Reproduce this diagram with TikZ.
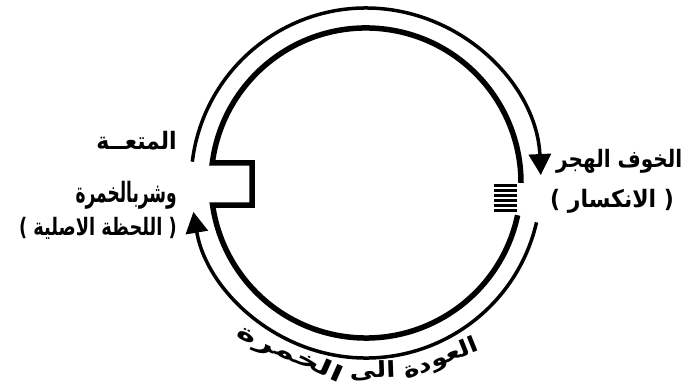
\documentclass[tikz,border=0pt]{standalone}
\usepackage{fontspec}
\usetikzlibrary{arrows.meta, calc}
\TeXXeTstate=1
\newfontfamily\arabicfont[Script=Arabic]{DejaVu Sans}
\newcommand{\artxt}[3][1.2]{\scalebox{#2}[#1]{#3}}

\begin{document}
\begin{tikzpicture}[x=1pt, y=1pt,
    lbl/.style={font=\arabicfont\bfseries\fontsize{20}{22}\selectfont, inner sep=0pt},
    arclbl/.style={font=\arabicfont\bfseries\fontsize{22}{24}\selectfont, inner sep=0pt},
    outerring/.style={line width=3.5pt, -{Triangle[length=21pt, width=22pt]}},
    innerring/.style={line width=5.5pt, line join=miter}]
  \useasboundingbox (0,0) rectangle (686,391);
  \coordinate (c) at (366,208);
  \draw[outerring] (c) ++(173:175) arc[start angle=173, end angle=2.6, radius=175];
  \draw[outerring] (c) ++(-13:175) arc[start angle=-13, end angle=-170.5, radius=175];
  \draw[innerring] (c) ++(-12:155) arc[start angle=-12, end angle=-171.8, radius=155]
    -| (252,228) -- (212.3,228) arc[start angle=172.6, end angle=0, radius=155];
  \foreach \y in {180,185,...,205}
    \draw[line width=3pt] (494,\y) -- (517,\y);
  \node[lbl, anchor=east] (matea) at (177,250) {\artxt{1.1}{\beginR المتعــة\endR}};
  \node[lbl, anchor=east] (sharb) at (177,196) {\artxt[1.4]{0.85}{\beginR وشربالخمرة\endR}};
  \node[lbl, anchor=east] (lahza) at (177,163) {\artxt{0.89}{\beginR( اللحظة الاصلية )\endR}};
  \node[lbl, anchor=west] (khawf) at (556,230) {\artxt{1}{\beginR الخوف الهجر\endR}};
  \node[lbl, anchor=west] (inkisar) at (550,190) {\artxt{1.1}{\beginR( الانكسار )\endR}};
  \node[arclbl, rotate=22] (awda) at ($(c)+(293:192)$) {\artxt[1]{1.2}{\beginR العودة\endR}};
  \node[arclbl, rotate=2] (ila) at ($(c)+(272:188)$) {\artxt[1]{1.2}{\beginR الى\endR}};
  \node[arclbl, rotate=-24] (khamra) at ($(c)+(246:188)$) {\artxt[1]{1.55}{\beginR الخمرة\endR}};
\end{tikzpicture}
\end{document}
